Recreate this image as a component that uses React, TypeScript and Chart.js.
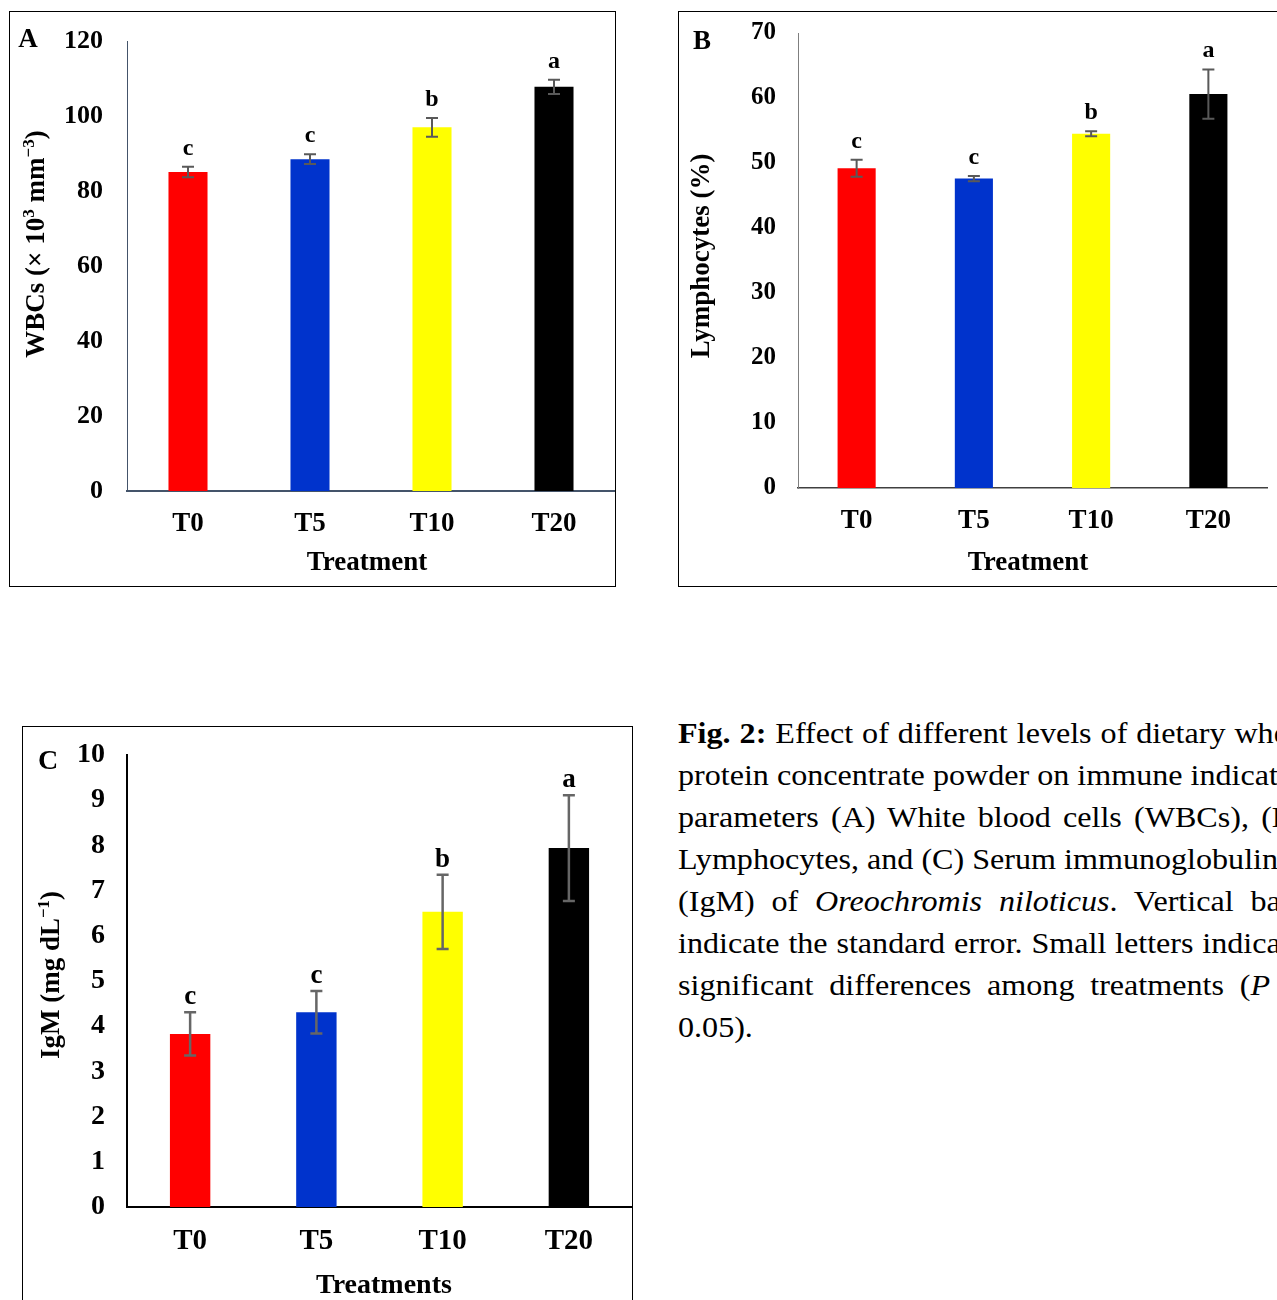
import React, { useEffect, useRef } from "react";
import { Chart, registerables } from "chart.js";

Chart.register(...registerables);

const categories = ["T0", "T5", "T10", "T20"];
const barColors = ["#FF0000", "#0033CC", "#FFFF00", "#000000"];

const wbcValues = [85.1, 88.5, 97.0, 107.8];
const wbcErrors = [1.4, 1.3, 2.5, 1.9];
const wbcLetters = ["c", "c", "b", "a"];

const lymValues = [49.2, 47.6, 54.5, 60.6];
const lymErrors = [1.3, 0.4, 0.4, 3.8];
const lymLetters = ["c", "c", "b", "a"];

const igmValues = [3.83, 4.31, 6.53, 7.94];
const igmErrors = [0.48, 0.47, 0.82, 1.17];
const igmLetters = ["c", "c", "b", "a"];

const FONT = "'Liberation Serif', 'Times New Roman', serif";

type Seg = { t: string; sup?: boolean };

const annotPlugin = {
  id: "annot",
  afterDatasetsDraw(chart: any, _args: any, o: any) {
    const ctx = chart.ctx as CanvasRenderingContext2D;
    const meta = chart.getDatasetMeta(0);
    const ys = chart.scales.y;
    const ca = chart.chartArea;
    ctx.save();
    meta.data.forEach((bar: any, i: number) => {
      const v = o.values[i];
      const e = o.errors[i];
      const x = bar.x;
      const yt = ys.getPixelForValue(v + e);
      const yb = ys.getPixelForValue(v - e);
      ctx.strokeStyle = o.errColor;
      ctx.lineWidth = o.errWidth;
      ctx.beginPath();
      ctx.moveTo(x, yt);
      ctx.lineTo(x, yb);
      ctx.moveTo(x - o.cap, yt);
      ctx.lineTo(x + o.cap, yt);
      ctx.moveTo(x - o.cap, yb);
      ctx.lineTo(x + o.cap, yb);
      ctx.stroke();
      ctx.fillStyle = "#000";
      ctx.font = `bold ${o.letterSize}px ${FONT}`;
      ctx.textAlign = "center";
      ctx.textBaseline = "alphabetic";
      ctx.fillText(o.letters[i], x, yt - o.letterGap);
    });
    // panel letter
    ctx.font = `bold ${o.panelSize}px ${FONT}`;
    ctx.textAlign = "center";
    ctx.textBaseline = "middle";
    ctx.fillText(o.panel, o.panelX, o.panelY);
    // x title
    ctx.font = `bold ${o.xTitleSize}px ${FONT}`;
    ctx.fillText(o.xTitle, o.xTitleX ?? (ca.left + ca.right) / 2, o.xTitleY);
    // y title (rich, rotated)
    const segs: Seg[] = o.yTitle;
    const size = o.yTitleSize;
    const supSize = Math.round(size * 0.62);
    let total = 0;
    const widths = segs.map((s) => {
      ctx.font = `bold ${s.sup ? supSize : size}px ${FONT}`;
      const w = ctx.measureText(s.t).width;
      total += w;
      return w;
    });
    ctx.translate(o.yTitleX, o.yTitleY);
    ctx.rotate(-Math.PI / 2);
    ctx.textAlign = "left";
    ctx.textBaseline = "alphabetic";
    let cx = -total / 2;
    const base = size * 0.33;
    segs.forEach((s, i) => {
      ctx.font = `bold ${s.sup ? supSize : size}px ${FONT}`;
      ctx.fillText(s.t, cx, s.sup ? base - size * 0.38 : base);
      cx += widths[i];
    });
    ctx.restore();
  },
};

type PanelCfg = {
  box: { left: number; top: number; w: number; h: number };
  values: number[];
  max: number;
  step: number;
  yWidth: number;
  xHeight: number;
  padTop: number;
  padRight: number;
  yTickPad: number;
  xTickPad: number;
  tickSize: number;
  xTickSize: number;
  yAxisColor: string;
  yAxisWidth: number;
  xAxisColor: string;
  xAxisWidth: number;
  barPct: number;
  annot: any;
};

function BarPanel({ cfg }: { cfg: PanelCfg }) {
  const ref = useRef<HTMLCanvasElement>(null);
  useEffect(() => {
    if (!ref.current) return;
    const chart = new Chart(ref.current, {
      type: "bar",
      data: {
        labels: categories,
        datasets: [
          {
            data: cfg.values,
            backgroundColor: barColors,
            borderWidth: 0,
            categoryPercentage: 1,
            barPercentage: cfg.barPct,
          },
        ],
      },
      options: {
        animation: false,
        responsive: false,
        devicePixelRatio: 1,
        layout: { padding: { top: cfg.padTop, right: cfg.padRight, left: 0, bottom: 0 } },
        plugins: {
          legend: { display: false },
          tooltip: { enabled: false },
          annot: cfg.annot,
        } as any,
        scales: {
          x: {
            grid: { display: false, drawTicks: false },
            border: { display: true, color: cfg.xAxisColor, width: cfg.xAxisWidth },
            ticks: {
              color: "#000",
              padding: cfg.xTickPad,
              font: { family: FONT, weight: "bold", size: cfg.xTickSize },
            },
            afterFit: (s: any) => {
              s.height = cfg.xHeight;
              s.paddingLeft = 0;
              s.paddingRight = 0;
            },
          },
          y: {
            min: 0,
            max: cfg.max,
            grid: { display: false, drawTicks: false },
            border: { display: true, color: cfg.yAxisColor, width: cfg.yAxisWidth },
            ticks: {
              stepSize: cfg.step,
              color: "#000",
              padding: cfg.yTickPad,
              font: { family: FONT, weight: "bold", size: cfg.tickSize },
            },
            afterFit: (s: any) => {
              s.width = cfg.yWidth;
              s.paddingTop = 0;
              s.paddingBottom = 0;
            },
          },
        },
      },
      plugins: [annotPlugin as any],
    });
    return () => chart.destroy();
  }, [cfg]);
  return (
    <div
      style={{
        position: "absolute",
        left: cfg.box.left,
        top: cfg.box.top,
        width: cfg.box.w,
        height: cfg.box.h,
        border: "1px solid #000",
        background: "#fff",
      }}
    >
      <canvas ref={ref} width={cfg.box.w} height={cfg.box.h} style={{ display: "block" }} />
    </div>
  );
}

const panelA: PanelCfg = {
  box: { left: 9, top: 11, w: 605, h: 574 },
  values: wbcValues,
  max: 120,
  step: 20,
  yWidth: 117,
  xHeight: 95,
  padTop: 29,
  padRight: 0,
  yTickPad: 24,
  xTickPad: 17,
  tickSize: 26,
  xTickSize: 27,
  yAxisColor: "#44546A",
  yAxisWidth: 1,
  xAxisColor: "#44546A",
  xAxisWidth: 2,
  barPct: 0.32,
  annot: {
    values: wbcValues,
    errors: wbcErrors,
    letters: wbcLetters,
    errColor: "#595959",
    errWidth: 2,
    cap: 6,
    letterSize: 24,
    letterGap: 12,
    panel: "A",
    panelSize: 27,
    panelX: 18,
    panelY: 28,
    xTitle: "Treatment",
    xTitleSize: 27,
    xTitleX: 357,
    xTitleY: 551,
    yTitle: [{ t: "WBCs (× 10" }, { t: "3", sup: true }, { t: " mm" }, { t: "−3", sup: true }, { t: ")" }],
    yTitleSize: 27,
    yTitleX: 25,
    yTitleY: 232,
  },
};

const panelB: PanelCfg = {
  box: { left: 678, top: 11, w: 610, h: 574 },
  values: lymValues,
  max: 70,
  step: 10,
  yWidth: 119,
  xHeight: 98,
  padTop: 21,
  padRight: 22,
  yTickPad: 22,
  xTickPad: 17,
  tickSize: 25,
  xTickSize: 27,
  yAxisColor: "#7F7F7F",
  yAxisWidth: 1,
  xAxisColor: "#404040",
  xAxisWidth: 1.5,
  barPct: 0.325,
  annot: {
    values: lymValues,
    errors: lymErrors,
    letters: lymLetters,
    errColor: "#595959",
    errWidth: 2,
    cap: 6,
    letterSize: 24,
    letterGap: 12,
    panel: "B",
    panelSize: 27,
    panelX: 23,
    panelY: 30,
    xTitle: "Treatment",
    xTitleSize: 27,
    xTitleX: 349,
    xTitleY: 551,
    yTitle: [{ t: "Lymphocytes (%)" }],
    yTitleSize: 27,
    yTitleX: 21,
    yTitleY: 244,
  },
};

const panelC: PanelCfg = {
  box: { left: 22, top: 726, w: 609, h: 600 },
  values: igmValues,
  max: 10,
  step: 1,
  yWidth: 104,
  xHeight: 120,
  padTop: 28,
  padRight: 0,
  yTickPad: 22,
  xTickPad: 17,
  tickSize: 28,
  xTickSize: 29,
  yAxisColor: "#000000",
  yAxisWidth: 2,
  xAxisColor: "#000000",
  xAxisWidth: 2,
  barPct: 0.32,
  annot: {
    values: igmValues,
    errors: igmErrors,
    letters: igmLetters,
    errColor: "#666666",
    errWidth: 2.5,
    cap: 6,
    letterSize: 27,
    letterGap: 8,
    panel: "C",
    panelSize: 28,
    panelX: 25,
    panelY: 35,
    xTitle: "Treatments",
    xTitleSize: 28,
    xTitleX: 361,
    xTitleY: 559,
    yTitle: [{ t: "IgM (mg dL" }, { t: "−1", sup: true }, { t: ")" }],
    yTitleSize: 27,
    yTitleX: 27,
    yTitleY: 248,
  },
};

const captionLines: React.ReactNode[] = [
  <>
    <b>Fig. 2:</b> Effect of different levels of dietary whey
  </>,
  <>protein concentrate powder on immune indicator</>,
  <>parameters (A) White blood cells (WBCs), (B)</>,
  <>Lymphocytes, and (C) Serum immunoglobulin M</>,
  <>
    (IgM) of <i>Oreochromis niloticus</i>. Vertical bars
  </>,
  <>indicate the standard error. Small letters indicate</>,
  <>
    significant differences among treatments (<i>P</i> &lt;
  </>,
  <>0.05).</>,
];

export default function App() {
  return (
    <div
      style={{
        position: "absolute",
        left: 0,
        top: 0,
        width: 1277,
        height: 1300,
        overflow: "hidden",
        background: "#fff",
      }}
    >
      <BarPanel cfg={panelA} />
      <BarPanel cfg={panelB} />
      <BarPanel cfg={panelC} />
      <div
        style={{
          position: "absolute",
          left: 678,
          top: 712,
          width: 585,
          fontFamily: FONT,
          fontSize: 30,
          lineHeight: "42px",
          color: "#000",
          transform: "scaleX(1.07)",
          transformOrigin: "0 0",
        }}
      >
        {captionLines.map((l, i) => (
          <div
            key={i}
            style={{
              textAlign: "justify",
              textAlignLast: i === captionLines.length - 1 ? "left" : "justify",
              whiteSpace: "nowrap",
            }}
          >
            {l}
          </div>
        ))}
      </div>
    </div>
  );
}
